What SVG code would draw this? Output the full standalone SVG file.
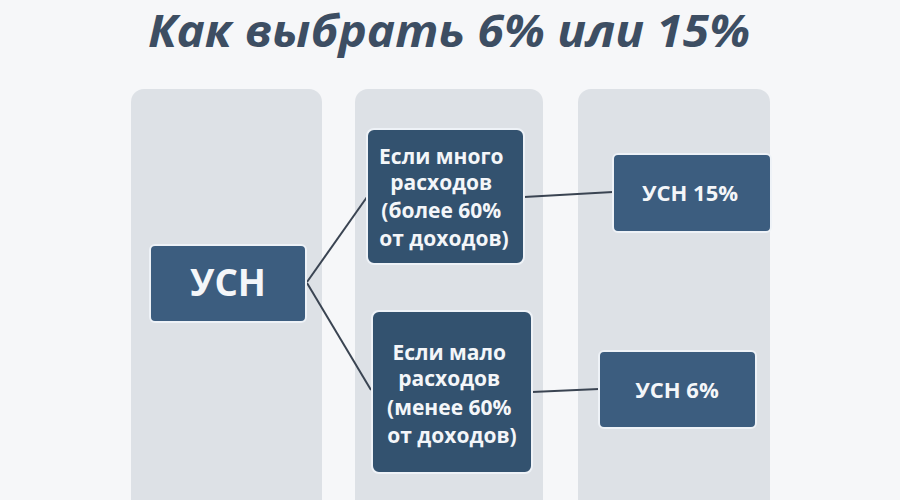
<svg xmlns="http://www.w3.org/2000/svg" width="900" height="500" viewBox="0 0 900 500">
<style>
.col{fill:#dde1e6}
.node{fill:#3c5d7f;stroke:#eef2f7;stroke-width:2}
.dark{fill:#33526f}
.t{font-family:"Open Sans","Liberation Sans",sans-serif;font-weight:bold;fill:#f4f6f9;text-anchor:middle}
.edge{stroke:#3a4452;stroke-width:2;fill:none}
</style>
<rect width="900" height="500" fill="#f6f7f9"/>
<text x="449" y="47" font-family="Open Sans, Liberation Sans, sans-serif" font-style="italic" font-weight="bold" font-size="44" fill="#3d4e63" text-anchor="middle" textLength="602" lengthAdjust="spacingAndGlyphs">Как выбрать 6% или 15%</text>
<g id="columns">
<rect class="col" x="131" y="89" width="191" height="430" rx="13"/>
<rect class="col" x="355" y="89" width="188" height="430" rx="13"/>
<rect class="col" x="578" y="89" width="192" height="430" rx="13"/>
</g>
<g id="connectors">
<line class="edge" x1="307" y1="282" x2="367" y2="197"/>
<line class="edge" x1="307" y1="283" x2="371" y2="390"/>
<line class="edge" x1="524" y1="197" x2="613" y2="192"/>
<line class="edge" x1="532" y1="392" x2="599" y2="389"/>
</g>
<g id="usn">
<rect class="node" x="150" y="245" width="156" height="77" rx="5"/>
<text class="t" x="228" y="296" font-size="38" textLength="76" lengthAdjust="spacingAndGlyphs">УСН</text>
</g>
<g id="many">
<rect class="node dark" x="367" y="129" width="157" height="135" rx="7"/>
<text class="t" font-size="21">
<tspan x="444" y="164">Если много</tspan>
<tspan x="444" y="190">расходов</tspan>
<tspan x="444" y="218">(более 60%</tspan>
<tspan x="444" y="246">от доходов)</tspan>
</text>
</g>
<g id="few">
<rect class="node dark" x="372" y="311" width="160" height="162" rx="7"/>
<text class="t" font-size="21">
<tspan x="452" y="360">Если мало</tspan>
<tspan x="452" y="386">расходов</tspan>
<tspan x="452" y="415">(менее 60%</tspan>
<tspan x="452" y="443">от доходов)</tspan>
</text>
</g>
<g id="usn15">
<rect class="node" x="613" y="154" width="158" height="78" rx="5"/>
<text class="t" x="690" y="201" font-size="22">УСН 15%</text>
</g>
<g id="usn6">
<rect class="node" x="599" y="351" width="157" height="77" rx="5"/>
<text class="t" x="677" y="398" font-size="22">УСН 6%</text>
</g>
</svg>
